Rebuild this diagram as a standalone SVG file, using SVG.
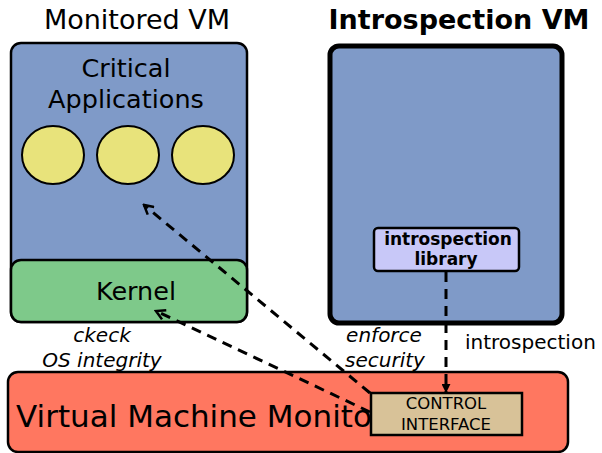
<svg xmlns="http://www.w3.org/2000/svg" width="602" height="453" viewBox="0 0 602 453">
<defs>
<style>
text{font-family:"DejaVu Sans","Liberation Sans",sans-serif;fill:#000}
.box{stroke:#000;stroke-width:2.5}
.dash{fill:none;stroke:#000;stroke-width:3;stroke-dasharray:10,7}
.it{font-style:italic;font-size:20px}
</style>
<marker id="chev" viewBox="0 0 12 12" refX="10" refY="6" markerWidth="12" markerHeight="12" markerUnits="userSpaceOnUse" orient="auto">
<path d="M1,1 L10,6 L1,11" fill="none" stroke="#000" stroke-width="2.5"/>
</marker>
<marker id="tri" viewBox="0 0 10 10" refX="9" refY="5" markerWidth="9" markerHeight="9" markerUnits="userSpaceOnUse" orient="auto">
<path d="M0,0 L10,5 L0,10 z" fill="#000"/>
</marker>
</defs>
<g id="monitored-vm">
<text x="137" y="29" font-size="27" text-anchor="middle">Monitored VM</text>
<rect class="box" x="11" y="43" width="236" height="279" rx="10" fill="#7f9ac8"/>
<text x="126" y="77" font-size="25.5" text-anchor="middle">Critical</text>
<text x="126" y="108" font-size="25.5" text-anchor="middle">Applications</text>
<g id="apps" fill="#e8e37b" stroke="#000" stroke-width="2">
<ellipse cx="53" cy="155" rx="31" ry="29"/>
<ellipse cx="128" cy="155" rx="31" ry="29"/>
<ellipse cx="203" cy="155" rx="31" ry="29"/>
</g>
</g>
<g id="kernel">
<rect class="box" x="11" y="260" width="236" height="62" rx="10" fill="#7ec98a"/>
<text x="136" y="300" font-size="25.5" text-anchor="middle">Kernel</text>
</g>
<g id="introspection-vm">
<text x="459" y="29" font-size="27" font-weight="bold" text-anchor="middle">Introspection VM</text>
<rect x="330" y="46" width="232" height="277" rx="9" fill="#7f9ac8" stroke="#000" stroke-width="5"/>
</g>
<g id="introspection-library">
<rect x="374" y="228" width="145" height="43" rx="4" fill="#c8c8f8" stroke="#000" stroke-width="2.5"/>
<text x="448" y="245" font-size="17" font-weight="bold" text-anchor="middle">introspection</text>
<text x="446" y="265" font-size="17" font-weight="bold" text-anchor="middle">library</text>
</g>
<g id="vmm">
<rect class="box" x="8" y="372" width="560" height="80" rx="10" fill="#ff7760"/>
<text x="16" y="427" font-size="31">Virtual Machine Monito</text>
</g>
<g id="connectors">
<line class="dash" x1="370" y1="393" x2="144" y2="205" marker-end="url(#chev)"/>
<line class="dash" x1="370" y1="412" x2="156" y2="311" marker-end="url(#chev)"/>
<line class="dash" x1="446" y1="272" x2="446" y2="392" marker-end="url(#tri)"/>
</g>
<g id="control-interface">
<rect x="371" y="393" width="151" height="42" fill="#d8c298" stroke="#000" stroke-width="2.5"/>
<text x="446" y="409" font-size="16.5" text-anchor="middle">CONTROL</text>
<text x="446" y="430" font-size="16.5" text-anchor="middle">INTERFACE</text>
</g>
<g id="labels">
<text class="it" x="102" y="342" text-anchor="middle">ckeck</text>
<text class="it" x="102" y="367" text-anchor="middle">OS integrity</text>
<text class="it" x="384" y="342" text-anchor="middle">enforce</text>
<text class="it" x="385" y="367" text-anchor="middle">security</text>
<text x="465" y="349" font-size="20">introspection</text>
</g>
</svg>
